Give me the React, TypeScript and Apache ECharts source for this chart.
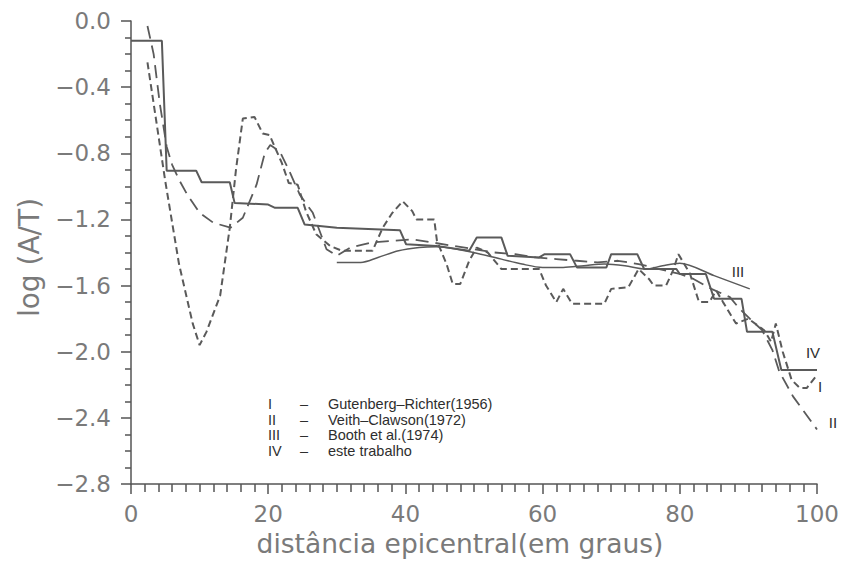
import React, { useEffect, useRef } from 'react';
import * as echarts from 'echarts';

// ---- data ----
const xTickValues = [0, 20, 40, 60, 80, 100];
const yTickValues = [0, -0.4, -0.8, -1.2, -1.6, -2.0, -2.4, -2.8];

const curveNumerals = ['I', 'II', 'III', 'IV'];
const curveNames = ['Gutenberg\u2013Richter(1956)', 'Veith\u2013Clawson(1972)', 'Booth et al.(1974)', 'este trabalho'];

// I — Gutenberg-Richter (1956), short dashes
const gutenbergRichter: [number, number][] = [
  [2.4, -0.25], [5, -0.97], [7, -1.47], [9, -1.83], [10, -1.96], [11, -1.88], [13, -1.66],
  [14.4, -1.25], [15.3, -0.9], [16.3, -0.59], [18, -0.58], [19.2, -0.68], [20.2, -0.69],
  [22, -0.86], [23, -0.98], [24.3, -0.99], [25.5, -1.15], [27, -1.29], [29, -1.36],
  [30.8, -1.39], [35.2, -1.39], [36.7, -1.25], [38.1, -1.16], [39.6, -1.09], [41, -1.15],
  [41.6, -1.2], [44.2, -1.2], [44.6, -1.33], [46, -1.47], [46.9, -1.59], [48, -1.59],
  [49.3, -1.45], [50.4, -1.37], [52, -1.4], [54, -1.5], [59.5, -1.5], [60.5, -1.6],
  [62, -1.7], [63, -1.62], [64.3, -1.71], [69, -1.71], [70, -1.62], [72.5, -1.61],
  [74, -1.5], [75.5, -1.56], [76.2, -1.6], [78, -1.6], [79, -1.51], [79.8, -1.41],
  [81.5, -1.53], [82.8, -1.7], [84.3, -1.7], [85.3, -1.63], [86.3, -1.7], [88.2, -1.83],
  [90, -1.8], [92.3, -1.87], [93.3, -1.94], [94, -1.83], [95, -2.0], [96.3, -2.17],
  [97.5, -2.22], [98.5, -2.22], [100, -2.14],
];

// II — Veith-Clawson (1972), long dashes
const veithClawson: [number, number][] = [
  [2.4, -0.03], [3.3, -0.2], [4.2, -0.5], [5.2, -0.76], [6, -0.87], [7, -0.96], [8.2, -1.05],
  [10, -1.16], [12, -1.22], [14.5, -1.25], [16.3, -1.19], [18.3, -0.99], [19.5, -0.8],
  [20.3, -0.75], [21.7, -0.79], [23, -0.9], [24.6, -1.05], [26.5, -1.16], [27.5, -1.27],
  [28.5, -1.38], [30, -1.42], [32, -1.37], [35, -1.34], [38, -1.33], [41, -1.32],
  [44, -1.34], [47, -1.36], [50, -1.38], [53, -1.4], [56, -1.41], [59, -1.43], [62, -1.44],
  [65, -1.45], [68, -1.46], [71, -1.45], [74, -1.47], [77, -1.5], [80, -1.53], [82, -1.56],
  [84.6, -1.62], [87.3, -1.67], [88.7, -1.74], [90.2, -1.8], [92, -1.87], [93.5, -1.99],
  [94.5, -2.12], [96.5, -2.27], [100, -2.47],
];

// III — Booth et al. (1974), thin solid
const boothEtAl: [number, number][] = [
  [30, -1.46], [33.5, -1.46], [36, -1.43], [39, -1.39], [42, -1.37], [44.5, -1.365],
  [47.5, -1.38], [51, -1.41], [54, -1.44], [57, -1.47], [60, -1.49], [63, -1.49],
  [66, -1.48], [69, -1.47], [72, -1.48], [75, -1.5], [77.5, -1.48], [80, -1.465],
  [85, -1.54], [90.2, -1.62],
];

// IV — este trabalho, solid steps
const esteTrabalho: [number, number][] = [
  [0, -0.12], [4.5, -0.12], [5.2, -0.905], [9.5, -0.905], [10.3, -0.975], [14.4, -0.975],
  [15.1, -1.1], [20, -1.11], [21, -1.13], [24.3, -1.13], [25.3, -1.23], [30, -1.25],
  [39.2, -1.265], [40.1, -1.35], [44.5, -1.36], [49.3, -1.39], [50.4, -1.31], [54, -1.31],
  [54.9, -1.42], [59.5, -1.43], [60.3, -1.41], [64, -1.41], [65, -1.49], [69.3, -1.49],
  [70, -1.41], [73.8, -1.41], [74.8, -1.5], [79.5, -1.5], [80, -1.53], [83.8, -1.53],
  [85, -1.68], [89, -1.68], [89.8, -1.88], [93.5, -1.88], [94.8, -2.11], [100, -2.11],
];

const LINE = '#5a5a5a';
const AXIS = '#555555';
const TICK_TEXT = '#7a7a7a';
const LABEL_TEXT = '#2e2e2e';
const FONT = 'DejaVu Sans';
const LEG_FONT = 'Liberation Sans';

function fmtY(v: number): string {
  if (Math.abs(v) < 1e-9) return '0.0';
  return (v < 0 ? '\u2212' : '') + Math.abs(v).toFixed(1);
}

export default function App() {
  const ref = useRef<HTMLDivElement>(null);
  useEffect(() => {
    if (!ref.current) return;
    const chart = echarts.init(ref.current, undefined, { renderer: 'svg' });

    const textStyle = (text: string, size: number, align: string) => ({
      text, fill: LABEL_TEXT, fontFamily: LEG_FONT, fontSize: size, align, verticalAlign: 'middle',
    });

    const graphics: any[] = [];
    curveNumerals.forEach((num, i) => {
      const y = 404 + i * 15.6;
      graphics.push(
        { type: 'text', x: 268, y, style: textStyle(num, 14.5, 'left') },
        { type: 'text', x: 300, y, style: textStyle('\u2013', 14.5, 'left') },
        { type: 'text', x: 328, y, style: textStyle(curveNames[i], 14.5, 'left') },
      );
    });
    const curveLabelPos = [
      [820, 386],
      [833, 422],
      [738, 271],
      [813, 352],
    ];
    curveNumerals.forEach((num, i) => {
      graphics.push({
        type: 'text', x: curveLabelPos[i][0], y: curveLabelPos[i][1],
        style: textStyle(num, 15, 'center'),
      });
    });

    chart.setOption({
      animation: false,
      backgroundColor: '#ffffff',
      grid: { left: 131, top: 21, right: 26, bottom: 79, containLabel: false },
      xAxis: {
        type: 'value', min: 0, max: 100, interval: 20,
        name: 'dist\u00e2ncia epicentral(em graus)',
        nameLocation: 'middle', nameGap: 46,
        nameTextStyle: { color: TICK_TEXT, fontFamily: FONT, fontSize: 26.5, padding: [0, 28, 0, 0] },
        axisLine: { show: true, onZero: false, lineStyle: { color: AXIS, width: 1.5 } },
        axisTick: { show: true, inside: false, length: 10, lineStyle: { color: AXIS, width: 1.5 } },
        minorTick: { show: true, splitNumber: 10, length: 8, lineStyle: { color: AXIS, width: 1.5 } },
        axisLabel: {
          color: TICK_TEXT, fontFamily: FONT, fontSize: 23, margin: 18,
          formatter: (v: number) => (xTickValues.includes(Math.round(v)) ? String(Math.round(v)) : ''),
        },
        splitLine: { show: false },
      },
      yAxis: {
        type: 'value', min: -2.8, max: 0, interval: 0.4,
        name: 'log (A/T)', nameLocation: 'middle', nameGap: 88, nameRotate: 90,
        nameTextStyle: { color: TICK_TEXT, fontFamily: FONT, fontSize: 28, padding: [0, 10, 0, 0] },
        axisLine: { show: true, onZero: false, lineStyle: { color: AXIS, width: 1.5 } },
        axisTick: { show: true, inside: false, length: 10, lineStyle: { color: AXIS, width: 1.5 } },
        minorTick: { show: true, splitNumber: 4, length: 6, lineStyle: { color: AXIS, width: 1.5 } },
        axisLabel: {
          color: TICK_TEXT, fontFamily: FONT, fontSize: 23, margin: 20,
          formatter: (v: number) => (yTickValues.some((t) => Math.abs(t - v) < 1e-6) ? fmtY(v) : ''),
        },
        splitLine: { show: false },
      },
      graphic: graphics,
      series: [
        { name: 'I', type: 'line', data: gutenbergRichter, symbol: 'none', lineStyle: { color: LINE, width: 2, type: [7, 4] } },
        { name: 'II', type: 'line', data: veithClawson, symbol: 'none', lineStyle: { color: LINE, width: 1.8, type: [13, 7] } },
        { name: 'III', type: 'line', data: boothEtAl, symbol: 'none', smooth: 0.3, lineStyle: { color: LINE, width: 1.5 } },
        { name: 'IV', type: 'line', data: esteTrabalho, symbol: 'none', lineStyle: { color: LINE, width: 2 } },
      ],
    });
    return () => chart.dispose();
  }, []);
  return <div ref={ref} style={{ position: 'absolute', left: 0, top: 0, width: 843, height: 563 }} />;
}
